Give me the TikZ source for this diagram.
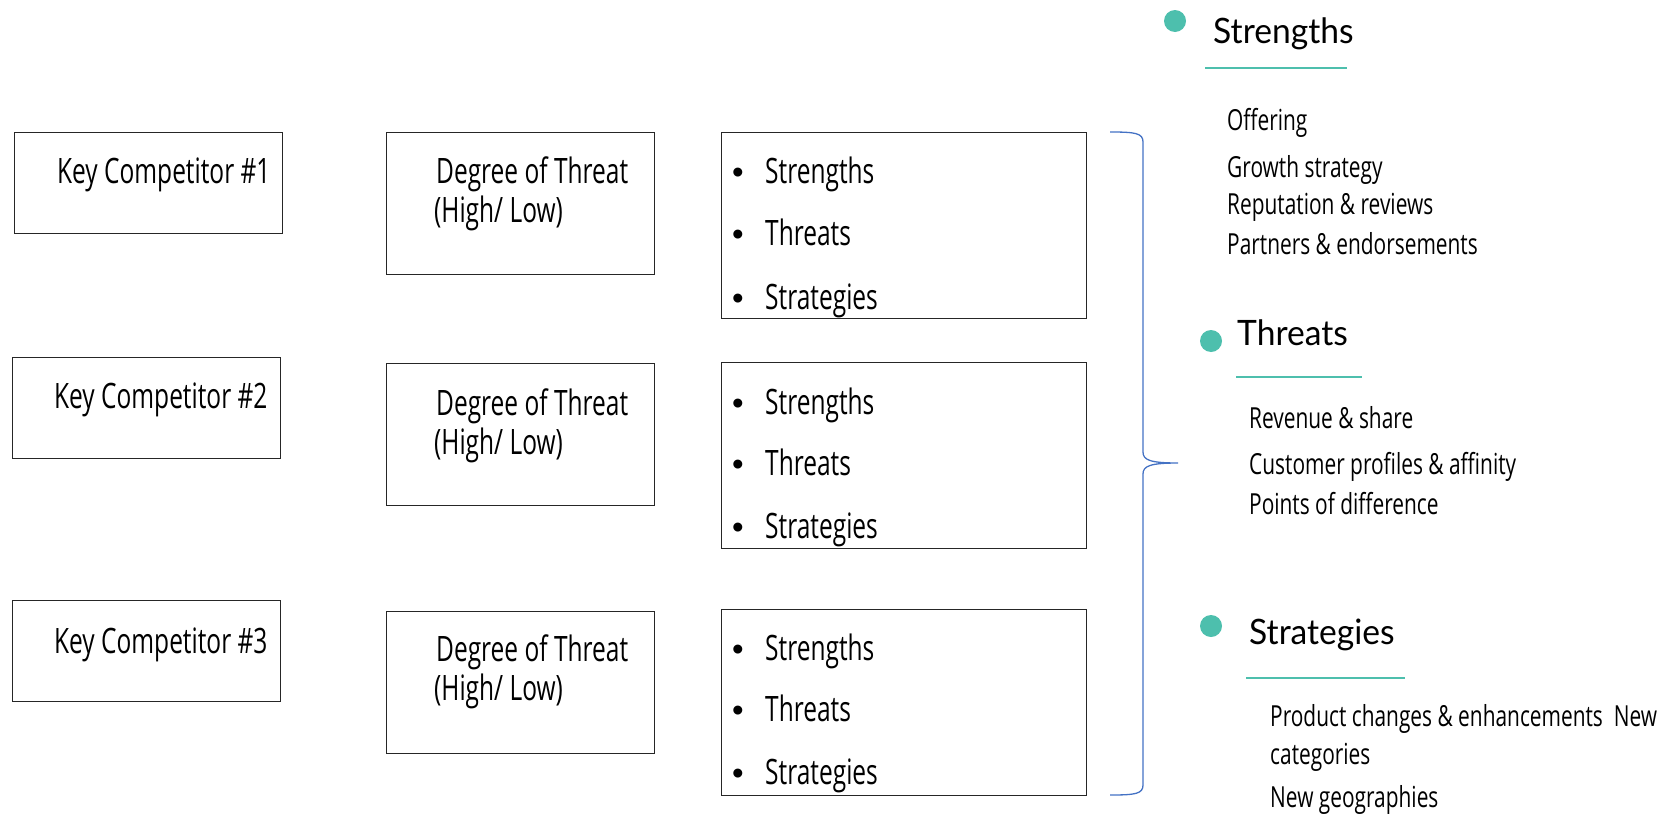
\documentclass[tikz,border=0pt]{standalone}
\usepackage{fontspec}
\newfontfamily\bodyf[FakeStretch=0.70]{Open Sans}
\newfontfamily\rightf[FakeStretch=0.72]{Open Sans}
\newfontfamily\headf[FakeStretch=0.96]{Lato}
\newfontfamily\bulf{Liberation Sans}
\definecolor{teal}{HTML}{4DBFAD}
\definecolor{braceblue}{HTML}{4472C4}
\tikzset{
  box/.style={draw=black!85, line width=1.1pt, inner sep=0pt, anchor=north west},
  kcbox/.style={box, minimum width=268pt, minimum height=101pt},
  dtbox/.style={box, minimum width=268pt, minimum height=142pt},
  lsbox/.style={box, minimum width=365pt, minimum height=186pt},
  btxt/.style={font=\bodyf\fontsize{35}{40}\selectfont, inner sep=0pt, anchor=base west},
  rtxt/.style={font=\rightf\fontsize{29}{35}\selectfont, inner sep=0pt, anchor=base west},
  htxt/.style={font=\headf\fontsize{35}{40}\selectfont, inner sep=0pt, anchor=base west},
  dot/.style={circle, fill=teal, inner sep=0pt, minimum size=22pt},
  uline/.style={draw=teal, line width=2pt},
}
\newcommand{\bul}[1]{\makebox[33pt][l]{\bulf\fontsize{33}{33}\selectfont •}#1}
\begin{document}
\begin{tikzpicture}[x=1pt,y=-1pt]
\useasboundingbox (0,0) rectangle (1671,814);
% row 1
\node[kcbox] (kc1) at (14,132) {};
\node[dtbox] (dt1) at (386,132) {};
\node[lsbox] (ls1) at (721,132) {};
\node[btxt] (kc1t) at (57,183) {Key Competitor \#1};
\node[btxt] (dt1a) at (436,183) {Degree of Threat};
\node[btxt] (dt1b) at (434,222) {(High/ Low)};
\node[btxt] (ls1a) at (732,183) {\bul{Strengths}};
\node[btxt] (ls1b) at (732,245) {\bul{Threats}};
\node[btxt] (ls1c) at (732,309) {\bul{Strategies}};
% row 2
\node[kcbox] (kc2) at (12,357) {};
\node[dtbox] (dt2) at (386,363) {};
\node[lsbox] (ls2) at (721,362) {};
\node[btxt] (kc2t) at (54,408) {Key Competitor \#2};
\node[btxt] (dt2a) at (436,415) {Degree of Threat};
\node[btxt] (dt2b) at (434,454) {(High/ Low)};
\node[btxt] (ls2a) at (732,414) {\bul{Strengths}};
\node[btxt] (ls2b) at (732,475) {\bul{Threats}};
\node[btxt] (ls2c) at (732,538) {\bul{Strategies}};
% row 3
\node[kcbox] (kc3) at (12,600) {};
\node[dtbox] (dt3) at (386,611) {};
\node[lsbox] (ls3) at (721,609) {};
\node[btxt] (kc3t) at (54,653) {Key Competitor \#3};
\node[btxt] (dt3a) at (436,661) {Degree of Threat};
\node[btxt] (dt3b) at (434,700) {(High/ Low)};
\node[btxt] (ls3a) at (732,660) {\bul{Strengths}};
\node[btxt] (ls3b) at (732,721) {\bul{Threats}};
\node[btxt] (ls3c) at (732,784) {\bul{Strategies}};
% brace
\coordinate (bt) at (1110,132);
\coordinate (bm) at (1178,463);
\coordinate (bb) at (1110,795);
\draw[braceblue, line width=1.3pt]
  (bt) .. controls (1135,132) and (1143,133) .. (1143,142)
  -- (1143,452) .. controls (1143,460) and (1150,463) .. (bm)
  .. controls (1150,463) and (1143,466) .. (1143,474)
  -- (1143,785) .. controls (1143,794) and (1135,795) .. (bb);
% right side: Strengths
\node[dot] (d1) at (1175,21) {};
\node[htxt] (h1) at (1213,43) {Strengths};
\coordinate (u1a) at (1205,68); \coordinate (u1b) at (1347,68);
\draw[uline] (u1a) -- (u1b);
\node[rtxt] (s1) at (1227,130) {Offering};
\node[rtxt] (s2) at (1227,177) {Growth strategy};
\node[rtxt] (s3) at (1227,214) {Reputation \& reviews};
\node[rtxt] (s4) at (1227,254) {Partners \& endorsements};
% Threats
\node[dot] (d2) at (1211,341) {};
\node[htxt] (h2) at (1237,345) {Threats};
\coordinate (u2a) at (1236,377); \coordinate (u2b) at (1362,377);
\draw[uline] (u2a) -- (u2b);
\node[rtxt] (t1) at (1249,428) {Revenue \& share};
\node[rtxt] (t2) at (1249,474) {Customer profiles \& affinity};
\node[rtxt] (t3) at (1249,514) {Points of difference};
% Strategies
\node[dot] (d3) at (1211,626) {};
\node[htxt] (h3) at (1249,644) {Strategies};
\coordinate (u3a) at (1246,678); \coordinate (u3b) at (1405,678);
\draw[uline] (u3a) -- (u3b);
\node[rtxt] (g1) at (1270,726) {Product changes \& enhancements\ \ New};
\node[rtxt] (g2) at (1270,764) {categories};
\node[rtxt] (g3) at (1270,807) {New geographies};
\end{tikzpicture}
\end{document}
